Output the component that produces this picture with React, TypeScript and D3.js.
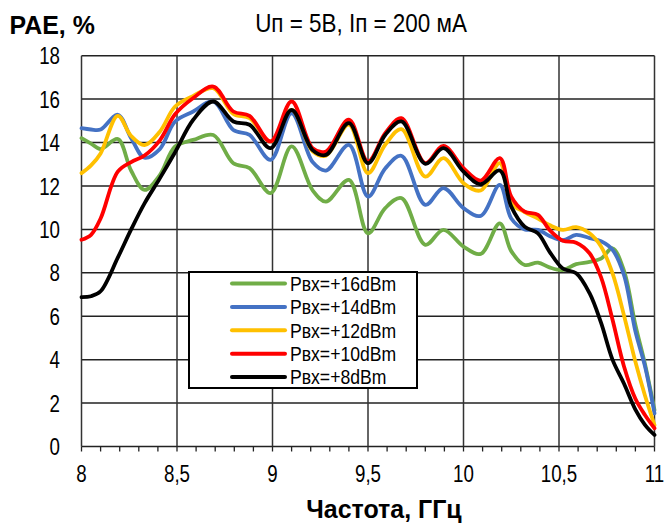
import React from "react";
import * as d3 from "d3";

const freq = [8.0, 8.05, 8.1, 8.19, 8.26, 8.33, 8.41, 8.49, 8.585, 8.69, 8.795, 8.88, 8.99, 9.1, 9.21, 9.28, 9.4, 9.5, 9.59, 9.675, 9.8, 9.895, 10.0, 10.09, 10.19, 10.25, 10.32, 10.39, 10.45, 10.52, 10.59, 10.66, 10.72, 10.78, 10.84, 10.9, 10.95, 11.0];

const p16 = [14.2, 13.95, 13.7, 14.16, 12.7, 11.82, 12.5, 13.82, 14.12, 14.35, 13.05, 12.82, 11.67, 13.82, 11.8, 11.28, 12.28, 9.82, 10.98, 11.44, 9.29, 9.98, 9.21, 8.87, 10.28, 9.0, 8.36, 8.47, 8.25, 8.13, 8.4, 8.5, 8.65, 9.13, 8.1, 5.6, 3.8, 1.68];
const p14 = [14.66, 14.6, 14.6, 15.28, 14.2, 13.3, 13.7, 14.97, 15.43, 15.89, 14.58, 14.35, 13.2, 15.35, 13.1, 12.71, 13.89, 11.51, 12.8, 13.39, 11.13, 11.9, 10.98, 10.62, 12.05, 10.5, 10.0, 9.98, 9.7, 9.5, 9.75, 9.6, 9.45, 9.06, 7.9, 5.3, 3.7, 1.53];
const p12 = [12.59, 12.95, 13.5, 15.23, 14.3, 13.88, 14.5, 15.66, 16.15, 16.5, 15.32, 15.12, 14.05, 15.5, 13.6, 13.4, 14.82, 12.59, 13.9, 14.62, 12.43, 13.28, 12.13, 11.79, 13.05, 11.2, 10.8, 10.5, 10.2, 9.98, 10.1, 9.82, 9.21, 7.98, 6.05, 3.9, 2.35, 0.99];
const p10 = [9.52, 9.75, 10.5, 12.66, 13.1, 13.4, 14.1, 15.3, 16.05, 16.58, 15.43, 15.23, 14.05, 15.89, 13.74, 13.59, 15.05, 13.12, 14.43, 15.12, 13.05, 13.85, 12.82, 12.25, 13.28, 11.51, 10.82, 10.67, 9.98, 9.48, 9.39, 8.9, 7.8, 5.85, 3.7, 2.2, 1.45, 0.84];
const p8 = [6.88, 6.92, 7.15, 8.7, 10.0, 11.2, 12.35, 13.55, 15.05, 15.89, 14.97, 14.82, 13.74, 15.5, 13.65, 13.43, 14.89, 13.05, 14.35, 14.97, 13.02, 13.74, 12.66, 12.08, 12.71, 11.05, 10.13, 9.82, 8.98, 8.2, 7.98, 7.06, 5.7, 4.0, 2.9, 1.7, 1.0, 0.53];

const seriesNames = ["Рвх=+16dBm", "Рвх=+14dBm", "Рвх=+12dBm", "Рвх=+10dBm", "Рвх=+8dBm"];
const seriesValues = [p16, p14, p12, p10, p8];
const seriesColors = ["#70AD47", "#4472C4", "#FFC000", "#FF0000", "#000000"];

const xTicks = [8, 8.5, 9, 9.5, 10, 10.5, 11];
const xMinorTicks = d3.range(80, 111).map((v) => v / 10);
const yTicks = [0, 2, 4, 6, 8, 10, 12, 14, 16, 18];

const FONT = "'Liberation Sans', Arial, sans-serif";

function SText(props: {
  x: number;
  y: number;
  sx: number;
  size: number;
  anchor?: string;
  bold?: boolean;
  dy?: string;
  children: React.ReactNode;
}) {
  return (
    <text
      transform={`translate(${props.x},${props.y}) scale(${props.sx},1)`}
      textAnchor={props.anchor || "start"}
      fontSize={props.size}
      fontWeight={props.bold ? "bold" : "normal"}
      dy={props.dy}
      fill="#000"
    >
      {props.children}
    </text>
  );
}

export default function App() {
  const W = 665;
  const H = 528;
  const left = 81.5;
  const right = 654.5;
  const top = 55.7;
  const bottom = 446.5;

  const x = d3.scaleLinear().domain([8, 11]).range([left, right]);
  const y = d3.scaleLinear().domain([0, 18]).range([bottom, top]);

  const line = d3
    .line<number>()
    .x((_, i) => x(freq[i]))
    .y((d) => y(d))
    .curve(d3.curveCatmullRom.alpha(0.5));

  const fmt = (v: number) => String(v).replace(".", ",");

  const legX = 189;
  const legY = 272;
  const legW = 228;
  const legH = 116;
  const rowH = 23.4;

  return (
    <svg
      width={W}
      height={H}
      style={{ position: "absolute", left: 0, top: 0, background: "#fff" }}
      fontFamily={FONT}
    >
      <rect x={0} y={0} width={W} height={H} fill="#fff" />
      {yTicks.map((t) => (
        <line key={"gy" + t} x1={left} x2={right} y1={y(t)} y2={y(t)} stroke="#222" strokeWidth={1.5} />
      ))}
      {xTicks.map((t) => (
        <line key={"gx" + t} x1={x(t)} x2={x(t)} y1={top} y2={bottom} stroke="#333" strokeWidth={1.5} />
      ))}
      {xMinorTicks.map((t) => (
        <line key={"mt" + t} x1={x(t)} x2={x(t)} y1={bottom} y2={bottom + 5} stroke="#222" strokeWidth={1.3} />
      ))}
      {yTicks.map((t) => (
        <SText key={"ly" + t} x={60} y={y(t)} dy="0.36em" anchor="end" size={24} sx={0.78}>
          {t}
        </SText>
      ))}
      {xTicks.map((t) => (
        <SText key={"lx" + t} x={x(t)} y={482} anchor="middle" size={24} sx={0.78}>
          {fmt(t)}
        </SText>
      ))}
      {seriesValues.map((vals, i) => (
        <path
          key={"s" + i}
          d={line(vals) || ""}
          fill="none"
          stroke={seriesColors[i]}
          strokeWidth={3.8}
          strokeLinejoin="round"
          strokeLinecap="round"
        />
      ))}
      <rect x={legX} y={legY} width={legW} height={legH} fill="#fff" stroke="#000" strokeWidth={2} />
      {seriesNames.map((n, i) => {
        const cy = legY + 11.5 + i * rowH;
        return (
          <g key={"lg" + i}>
            <line x1={232} x2={285} y1={cy} y2={cy} stroke={seriesColors[i]} strokeWidth={4} strokeLinecap="round" />
            <SText x={290} y={cy} dy="0.36em" size={20} sx={0.88}>
              {n}
            </SText>
          </g>
        );
      })}
      <SText x={9.5} y={34} size={26.5} sx={0.94} bold>
        PAE, %
      </SText>
      <SText x={361} y={31.7} anchor="middle" size={25.5} sx={0.88}>
        Uп = 5В, Iп = 200 мА
      </SText>
      <SText x={384} y={518} anchor="middle" size={26} sx={0.96} bold>
        Частота, ГГц
      </SText>
    </svg>
  );
}
